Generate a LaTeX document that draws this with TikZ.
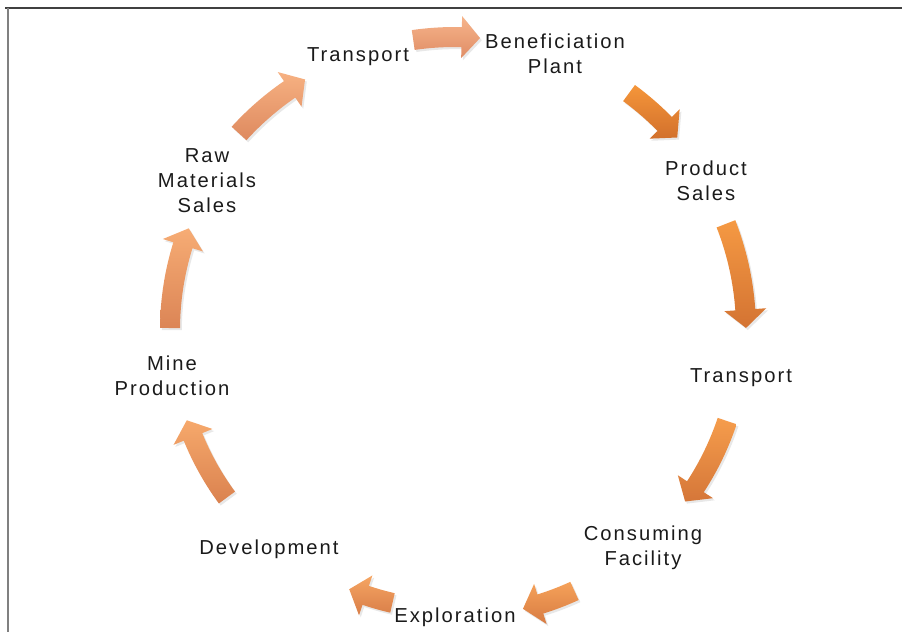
\documentclass[tikz,border=0pt]{standalone}
\usepackage{fontspec}
\setmainfont{Liberation Sans}[LetterSpace=10]
\usepackage{tikz}
\usetikzlibrary{shadows}
\definecolor{vividtop}{HTML}{F5963A}
\definecolor{vividbot}{HTML}{D2702C}
\definecolor{paletop}{HTML}{F7B894}
\definecolor{palebot}{HTML}{E1906C}
\definecolor{textgray}{HTML}{1A1A1A}
\tikzset{
  stage/.style={align=center, font=\fontsize{11.5}{14.2}\selectfont, text=textgray, inner sep=0pt},
  arrowshade/.style={top color=paletop!#1!vividtop, bottom color=palebot!#1!vividbot,
    drop shadow={opacity=0.18, shadow xshift=1pt, shadow yshift=-1.2pt}}
}
% curved block arrow on the cycle: [pale share](tail angle:tip angle:radius)
\def\cyclearrow[#1](#2:#3:#4){\path[arrowshade=#1] (#2:{#4+10}) arc[start angle=#2, end angle={#3+3.6}, radius={#4+10}] -- ({#3+3.6}:{#4+21}) -- (#3:#4) -- ({#3+3.6}:{#4-21}) -- ({#3+3.6}:{#4-10}) arc[start angle={#3+3.6}, end angle=#2, radius={#4-10}] -- cycle;}

\begin{document}
\begin{tikzpicture}[x=0.02cm, y=0.02cm]
			%%%%% START %%%%%
			\useasboundingbox (0, 0) rectangle (902, 632);
			
			\draw[black!75, line width=0.9pt] (5, 624) -- (902, 624);
			\draw[black!50, line width=1.1pt] (8, 624) -- (8, 0);
			
			\node[stage] (transtop) at (358, 575) {Transport};
			\node[stage] (benef) at (555, 578) {Beneficiation\\Plant};
			\node[stage] (product) at (706, 451) {Product\\Sales};
			\node[stage] (transright) at (741, 254) {Transport};
			\node[stage] (consum) at (643, 84) {Consuming\\Facility};
			\node[stage] (explor) at (455, 15) {Exploration};
			\node[stage] (develop) at (269, 83) {Development};
			\node[stage] (mine) at (172, 256) {Mine\\Production};
			\node[stage] (rawmat) at (207, 451) {Raw\\Materials\\Sales};
			
			\begin{scope}[shift={(455, 302)}]
			\cyclearrow[0](53.7:40.9:294);
			\cyclearrow[10](21.4:0.4:291);
			\cyclearrow[20](-18.5:-36.7:287);
			\cyclearrow[35](-65.4:-76.3:287);
			\cyclearrow[45](-102.9:-112.2:280);
			\cyclearrow[55](216.3:198.6:283);
			\cyclearrow[65](179.6:159.1:285);
			\cyclearrow[80](137.7:120.9:292);
			\cyclearrow[90](98.2:85.1:293);
			\end{scope}
			
			%%%%% END %%%%%
\end{tikzpicture}
\end{document}
